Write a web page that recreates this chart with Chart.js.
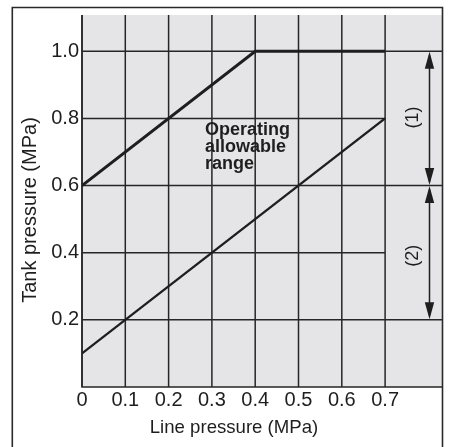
<!DOCTYPE html>
<html>
<head>
<meta charset="utf-8">
<script src="https://cdn.jsdelivr.net/npm/chart.js@4.4.1/dist/chart.umd.min.js"></script>
<style>
  html, body { margin: 0; padding: 0; background: #ffffff; }
  #wrap { width: 450px; height: 447px; position: relative; }
</style>
</head>
<body>
<div id="wrap"><canvas id="c"></canvas></div>
<script>
// ---- data ----
const xTicks = [0, 0.1, 0.2, 0.3, 0.4, 0.5, 0.6, 0.7];
const yTicks = [0.2, 0.4, 0.6, 0.8, 1.0];
const upperX = [0, 0.4, 0.7];
const upperY = [0.6, 1.0, 1.0];
const lowerX = [0, 0.7];
const lowerY = [0.1, 0.8];
const fullGridY = [0.2, 0.6, 1.0];     // horizontal lines that run to the right edge
const shortGridY = [0.4, 0.8];         // horizontal lines that stop at x = 0.7
const rangeFrom = [1.0, 0.6];
const rangeTo = [0.6, 0.2];
const rangeLabels = ['(1)', '(2)'];
const noteLines = ['Operating', 'allowable', 'range'];
const xTitle = 'Line pressure (MPa)';
const yTitle = 'Tank pressure (MPa)';

const FONT = "'Liberation Sans', Arial, Helvetica, sans-serif";
const INK = '#1e1e1e';

function pts(xs, ys) { return xs.map((x, i) => ({ x: x, y: ys[i] })); }

function arrowHead(ctx, x, tipY, dir) {
  // dir = -1 pointing up, +1 pointing down
  const len = 17, half = 4.7;
  ctx.beginPath();
  ctx.moveTo(x, tipY);
  ctx.lineTo(x - half, tipY - dir * len);
  ctx.lineTo(x + half, tipY - dir * len);
  ctx.closePath();
  ctx.fill();
}

const decor = {
  id: 'decor',
  beforeDraw(chart) {
    const { ctx, chartArea: a } = chart;
    ctx.save();
    ctx.fillStyle = '#ffffff';
    ctx.fillRect(0, 0, chart.width, chart.height);
    ctx.fillStyle = '#e5e5e7';
    ctx.fillRect(a.left, a.top, a.right - a.left, a.bottom - a.top);
    // outer frame
    ctx.strokeStyle = '#2a2a2a';
    ctx.lineWidth = 1.6;
    ctx.beginPath();
    ctx.moveTo(12.3, chart.height + 5);
    ctx.lineTo(12.3, 7.5);
    ctx.lineTo(442.5, 7.5);
    ctx.lineTo(442.5, chart.height + 5);
    ctx.stroke();
    ctx.restore();
  },
  beforeDatasetsDraw(chart) {
    const { ctx, chartArea: a, scales: { x, y } } = chart;
    ctx.save();
    ctx.strokeStyle = '#262626';
    ctx.lineWidth = 1.5;
    // vertical grid
    xTicks.forEach(v => {
      const px = x.getPixelForValue(v);
      ctx.beginPath(); ctx.moveTo(px, a.top); ctx.lineTo(px, a.bottom); ctx.stroke();
    });
    const x07 = x.getPixelForValue(xTicks[xTicks.length - 1]);
    fullGridY.forEach(v => {
      const py = y.getPixelForValue(v);
      ctx.beginPath(); ctx.moveTo(a.left, py); ctx.lineTo(a.right, py); ctx.stroke();
    });
    shortGridY.forEach(v => {
      const py = y.getPixelForValue(v);
      ctx.beginPath(); ctx.moveTo(a.left, py); ctx.lineTo(x07, py); ctx.stroke();
    });
    // plot border left & bottom
    ctx.beginPath();
    ctx.moveTo(a.left, a.top); ctx.lineTo(a.left, a.bottom); ctx.lineTo(a.right, a.bottom);
    ctx.stroke();
    // range arrows
    const ax = 429.5;
    ctx.fillStyle = INK;
    ctx.strokeStyle = INK;
    ctx.lineWidth = 1.5;
    rangeFrom.forEach((v, i) => {
      const yTop = y.getPixelForValue(v);
      const yBot = y.getPixelForValue(rangeTo[i]);
      ctx.beginPath(); ctx.moveTo(ax, yTop + 4); ctx.lineTo(ax, yBot - 4); ctx.stroke();
      arrowHead(ctx, ax, yTop + 0.5, -1);
      arrowHead(ctx, ax, yBot - 0.5, 1);
      // label
      ctx.save();
      ctx.translate(413, (yTop + yBot) / 2 + (i === 0 ? -1 : 3));
      ctx.rotate(-Math.PI / 2);
      ctx.font = '18px ' + FONT;
      ctx.textAlign = 'center';
      ctx.textBaseline = 'middle';
      ctx.fillText(rangeLabels[i], 0, 0);
      ctx.restore();
    });
    ctx.restore();
  },
  afterDraw(chart) {
    const { ctx, scales: { x, y } } = chart;
    ctx.save();
    ctx.fillStyle = INK;
    // note
    ctx.font = 'bold 18px ' + FONT;
    ctx.textAlign = 'left';
    ctx.textBaseline = 'alphabetic';
    const nx = x.getPixelForValue(0.284);
    const ny = y.getPixelForValue(0.75);
    noteLines.forEach((t, i) => ctx.fillText(t, nx, ny + i * 17));
    // axis titles
    ctx.font = '18.6px ' + FONT;
    ctx.textAlign = 'center';
    ctx.fillText(xTitle, 234, 433);
    ctx.save();
    ctx.translate(36, 210);
    ctx.rotate(-Math.PI / 2);
    ctx.font = '20px ' + FONT;
    ctx.fillText(yTitle, 0, 0);
    ctx.restore();
    ctx.restore();
  }
};

new Chart(document.getElementById('c'), {
  type: 'line',
  data: {
    datasets: [
      { data: pts(upperX, upperY), borderColor: INK, borderWidth: 3, pointRadius: 0, tension: 0, fill: false, borderJoinStyle: 'miter' },
      { data: pts(lowerX, lowerY), borderColor: INK, borderWidth: 2.4, pointRadius: 0, tension: 0, fill: false }
    ]
  },
  options: {
    responsive: true,
    maintainAspectRatio: false,
    animation: false,
    devicePixelRatio: 1,
    layout: { padding: { top: 8, right: 8, left: 0, bottom: 0 } },
    plugins: { legend: { display: false }, tooltip: { enabled: false } },
    scales: {
      x: {
        type: 'linear', min: 0, max: 0.8314,
        afterBuildTicks: s => { s.ticks = xTicks.map(v => ({ value: v })); },
        afterFit: s => { s.height = 60; },
        grid: { display: false, drawTicks: false },
        border: { display: false },
        ticks: {
          padding: 1, color: INK, font: { family: FONT, size: 20 },
          maxRotation: 0, autoSkip: false,
          callback: v => (v === 0 ? '0' : v.toFixed(1))
        }
      },
      y: {
        type: 'linear', min: 0, max: 1.108,
        afterBuildTicks: s => { s.ticks = yTicks.map(v => ({ value: v })); },
        afterFit: s => { s.width = 82; },
        grid: { display: false, drawTicks: false },
        border: { display: false },
        ticks: {
          padding: 3, color: INK, font: { family: FONT, size: 20 },
          autoSkip: false,
          callback: v => v.toFixed(1)
        }
      }
    }
  },
  plugins: [decor]
});
</script>
</body>
</html>
